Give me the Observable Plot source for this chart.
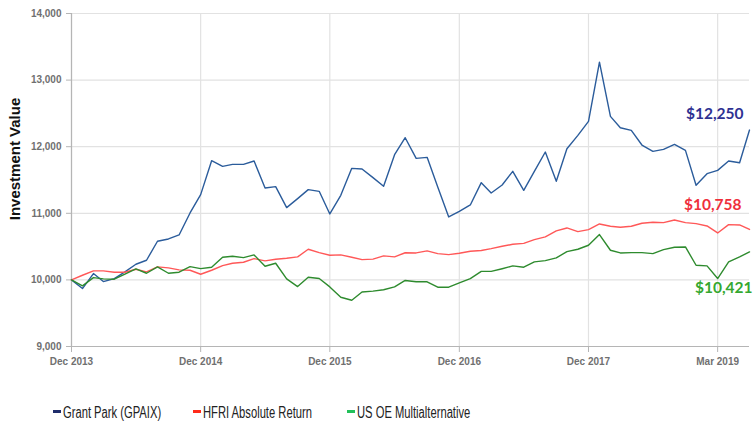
<!DOCTYPE html>
<html><head><meta charset="utf-8">
<script src="https://cdn.jsdelivr.net/npm/d3@7"></script>
<script src="https://cdn.jsdelivr.net/npm/@observablehq/plot@0.6"></script>
<style>
body{margin:0;background:#fff;}
#legend{position:relative;width:753px;height:36px;font-family:"Liberation Sans",Arial,sans-serif;font-size:16px;color:#222;}
.item{position:absolute;top:19px;line-height:17px;white-space:nowrap;}
.sw{display:inline-block;width:8px;height:3px;vertical-align:middle;margin-right:2px;position:relative;top:-2px;}
.lt{display:inline-block;transform:scaleX(0.7);transform-origin:left center;}
</style></head><body>
<div id="chart"></div>
<div id="legend"></div>
<script>
// ---- data ----
const seriesNames = ["Grant Park (GPAIX)", "HFRI Absolute Return", "US OE Multialternative"];
const grantPark = [10000,9870,10095,9975,10020,10120,10235,10295,10580,10615,10675,11005,11280,11790,11705,11735,11735,11785,11380,11400,11085,11220,11355,11330,10990,11270,11675,11665,11535,11405,11880,12135,11825,11840,11395,10945,11030,11125,11460,11305,11425,11630,11345,11630,11920,11480,11970,12170,12380,13270,12455,12285,12245,12025,11930,11960,12035,11945,11420,11595,11645,11785,11760,12250];
const hfri = [10000,10070,10135,10135,10115,10115,10160,10120,10195,10180,10150,10145,10085,10145,10215,10250,10265,10320,10285,10310,10325,10345,10460,10410,10370,10375,10340,10305,10312,10360,10345,10408,10405,10435,10395,10380,10400,10430,10442,10470,10505,10535,10548,10605,10645,10735,10780,10725,10755,10840,10805,10790,10805,10850,10865,10860,10900,10860,10845,10810,10705,10830,10825,10758];
const usoe = [10000,9910,10035,10015,10010,10085,10165,10100,10195,10100,10115,10200,10170,10190,10340,10355,10335,10375,10205,10250,10015,9900,10040,10020,9895,9740,9695,9818,9832,9852,9895,9992,9972,9972,9890,9890,9955,10020,10128,10128,10168,10210,10190,10270,10290,10330,10425,10460,10520,10680,10445,10405,10410,10410,10395,10455,10490,10495,10220,10210,10020,10270,10345,10421];
const startMonth = "2013-12-01";
const endMonth = "2019-03-01";
const xTickMonths = ["2013-12-01","2014-12-01","2015-12-01","2016-12-01","2017-12-01","2018-12-01"];
const xTickLabels = ["Dec 2013","Dec 2014","Dec 2015","Dec 2016","Dec 2017","Mar 2019"];
const yTicks = [9000,10000,11000,12000,13000,14000];
const yLabel = "Investment Value";

// ---- styles ----
const lineColors = ["#2b5c9b", "#ff5858", "#2e8b2e"];
const legendColors = ["#1f2d6b", "#ff2a1a", "#22c05a"];
const labelColors = ["#2e3192", "#ef2f3c", "#35a82f"];

const months = d3.utcMonth.range(new Date(startMonth), d3.utcMonth.offset(new Date(endMonth), 1));
const allValues = [grantPark, hfri, usoe];
const rows = [];
allValues.forEach((vals, k) => vals.forEach((v, i) => rows.push({date: months[i], value: v, series: seriesNames[k]})));
const lastRows = allValues.map((vals, k) => ({date: months[vals.length - 1], value: vals[vals.length - 1], series: seriesNames[k]}));
const xTickDates = xTickMonths.map(s => new Date(s));
const fmtX = d => xTickLabels[xTickDates.findIndex(t => +t === +d)];

const labelOffsets = [{dx: -6, dy: -16}, {dx: -8, dy: -24}, {dx: 3, dy: 36}];

const chart = Plot.plot({
  width: 753, height: 385,
  marginTop: 13, marginBottom: 39, marginLeft: 71, marginRight: 4,
  style: {fontFamily: "'Liberation Sans', Arial, sans-serif", background: "#fff"},
  x: {type: "utc", domain: [months[0], months[months.length - 1]]},
  y: {domain: [9000, 14000]},
  color: {domain: seriesNames, range: lineColors},
  marks: [
    Plot.gridY(yTicks, {stroke: "#e2e2e2", strokeOpacity: 1, strokeWidth: 1.2}),
    Plot.gridX(xTickDates, {stroke: "#e2e2e2", strokeOpacity: 1, strokeWidth: 1.2}),
    Plot.ruleX([months[0]], {stroke: "#b5b5b5", strokeWidth: 1.2}),
    Plot.ruleY([9000], {stroke: "#b5b5b5", strokeWidth: 1.2}),
    Plot.axisY(yTicks, {tickFormat: d3.format(","), fontWeight: "bold", fontSize: 10, fill: "#707070", stroke: "#b5b5b5", tickSize: 5, tickPadding: 5, label: null}),
    Plot.axisX(xTickDates, {tickFormat: fmtX, fontWeight: "bold", fontSize: 10, fill: "#707070", stroke: "#b5b5b5", tickSize: 6, tickPadding: 5, label: null}),
    Plot.text([yLabel], {frameAnchor: "left", rotate: -90, textAnchor: "middle", dx: -56, dy: -21, fontWeight: "bold", fontSize: 15, fill: "#111"}),
    Plot.line(rows, {x: "date", y: "value", stroke: "series", z: "series", strokeWidth: 1.4}),
    ...lastRows.map((r, k) => Plot.text([r], {x: "date", y: "value", text: d => d3.format("$,")(d.value), textAnchor: "end", dx: labelOffsets[k].dx, dy: labelOffsets[k].dy, fill: labelColors[k], fontWeight: "bold", fontSize: 15.5, fontFamily: "Lato, 'Open Sans', sans-serif"}))
  ]
});
document.getElementById("chart").appendChild(chart);

const legendLefts = [53, 193, 347];
const legend = document.getElementById("legend");
seriesNames.forEach((name, k) => {
  const it = document.createElement("div");
  it.className = "item";
  it.style.left = legendLefts[k] + "px";
  it.innerHTML = `<span class="sw" style="background:${legendColors[k]}"></span><span class="lt">${name}</span>`;
  legend.appendChild(it);
});
</script>
</body></html>
